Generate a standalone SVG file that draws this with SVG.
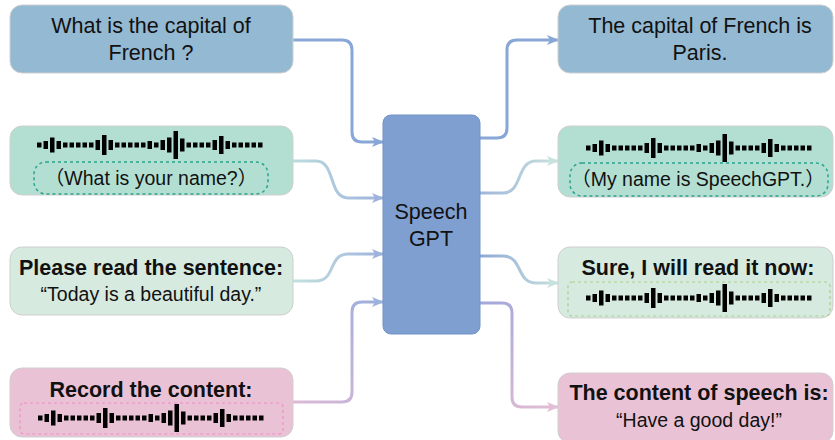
<svg xmlns="http://www.w3.org/2000/svg" xmlns:xlink="http://www.w3.org/1999/xlink" width="835" height="440" viewBox="0 0 835 440">
<style>
.t{font-family:"Liberation Sans","Noto Sans CJK SC",Arial,sans-serif;fill:#111;text-anchor:middle}
.r{font-size:21.5px}
.b{font-size:21.5px;font-weight:bold}
.q{font-size:19.5px}
.box{stroke:#cfcfcf;stroke-width:1}
.c{fill:none;stroke-width:3}
</style>
<defs>
<g id="wave" fill="#000">
<rect x="0" y="-2.5" width="4.5" height="5"/><rect x="6.5" y="-4" width="4.5" height="8"/><rect x="13" y="-7.5" width="4.5" height="15"/><rect x="19.5" y="-4" width="4.5" height="8"/><rect x="26" y="-2.5" width="4.5" height="5"/><rect x="32.5" y="-2.5" width="4.5" height="5"/><rect x="39" y="-2.5" width="4.5" height="5"/><rect x="45.5" y="-2.5" width="4.5" height="5"/><rect x="52" y="-2.5" width="4.5" height="5"/><rect x="58.5" y="-5" width="4.5" height="10"/><rect x="65" y="-10" width="4.5" height="20"/><rect x="71.5" y="-5" width="4.5" height="10"/><rect x="78" y="-2.5" width="4.5" height="5"/><rect x="84.5" y="-2.5" width="4.5" height="5"/><rect x="91" y="-2.5" width="4.5" height="5"/><rect x="97.5" y="-2.5" width="4.5" height="5"/><rect x="104" y="-2.5" width="4.5" height="5"/><rect x="110.5" y="-4" width="4.5" height="8"/><rect x="117" y="-2.5" width="4.5" height="5"/><rect x="123.5" y="-5" width="4.5" height="10"/><rect x="130" y="-7.5" width="4.5" height="15"/><rect x="136.5" y="-14" width="4.5" height="28"/><rect x="143" y="-6.5" width="4.5" height="13"/><rect x="149.5" y="-2.5" width="4.5" height="5"/><rect x="156" y="-2.5" width="4.5" height="5"/><rect x="162.5" y="-2.5" width="4.5" height="5"/><rect x="169" y="-2.5" width="4.5" height="5"/><rect x="175.5" y="-5" width="4.5" height="10"/><rect x="182" y="-9" width="4.5" height="18"/><rect x="188.5" y="-4" width="4.5" height="8"/><rect x="195" y="-2.5" width="4.5" height="5"/><rect x="201.5" y="-2.5" width="4.5" height="5"/><rect x="208" y="-2.5" width="4.5" height="5"/><rect x="214.5" y="-2.5" width="4.5" height="5"/><rect x="221" y="-2.5" width="4.5" height="5"/>
</g>
<marker id="mBlue" markerWidth="12" markerHeight="12" refX="11" refY="6" orient="auto" markerUnits="userSpaceOnUse"><path d="M0,1 L12,6 L0,11 L3,6 Z" fill="#88a7d6"/></marker>
<marker id="mBlue2" markerWidth="12" markerHeight="12" refX="11" refY="6" orient="auto" markerUnits="userSpaceOnUse"><path d="M0,1 L12,6 L0,11 L3,6 Z" fill="#9eb3dc"/></marker>
<marker id="mTeal" markerWidth="12" markerHeight="12" refX="11" refY="6" orient="auto" markerUnits="userSpaceOnUse"><path d="M0,1 L12,6 L0,11 L3,6 Z" fill="#c8e3dd"/></marker>
<marker id="mPink" markerWidth="12" markerHeight="12" refX="11" refY="6" orient="auto" markerUnits="userSpaceOnUse"><path d="M0,1 L12,6 L0,11 L3,6 Z" fill="#e3bcd5"/></marker>
<linearGradient id="g2" gradientUnits="userSpaceOnUse" x1="293" y1="0" x2="383" y2="0"><stop offset="0" stop-color="#bcdcdf"/><stop offset="1" stop-color="#9eb3dc"/></linearGradient>
<linearGradient id="g3" gradientUnits="userSpaceOnUse" x1="293" y1="0" x2="383" y2="0"><stop offset="0" stop-color="#c3e1df"/><stop offset="1" stop-color="#9eb3dc"/></linearGradient>
<linearGradient id="g4" gradientUnits="userSpaceOnUse" x1="293" y1="402" x2="383" y2="302"><stop offset="0" stop-color="#dcb8d6"/><stop offset="1" stop-color="#9eaedc"/></linearGradient>
<linearGradient id="gr2" gradientUnits="userSpaceOnUse" x1="480" y1="0" x2="558" y2="0"><stop offset="0" stop-color="#9fb6dc"/><stop offset="1" stop-color="#c8e3dd"/></linearGradient>
<linearGradient id="gr3" gradientUnits="userSpaceOnUse" x1="480" y1="0" x2="558" y2="0"><stop offset="0" stop-color="#8ea8d6"/><stop offset="1" stop-color="#c8e3dd"/></linearGradient>
<linearGradient id="gr4" gradientUnits="userSpaceOnUse" x1="480" y1="303" x2="558" y2="407"><stop offset="0" stop-color="#a2a8da"/><stop offset="1" stop-color="#e3bcd5"/></linearGradient>
</defs>
<rect width="835" height="440" fill="#fff"/>

<g id="connectors">
<path class="c" stroke="#88a7d6" marker-end="url(#mBlue)" d="M293,40 H342 Q352,40 352,50 V132 Q352,142 362,142 H383"/>
<path class="c" stroke="url(#g2)" marker-end="url(#mBlue2)" d="M293,161 H316 C336,161 328,198 348,198 H383"/>
<path class="c" stroke="url(#g3)" marker-end="url(#mBlue2)" d="M293,281 H316 C336,281 328,254 348,254 H383"/>
<path class="c" stroke="url(#g4)" marker-end="url(#mBlue2)" d="M293,402 H342 Q352,402 352,392 V312 Q352,302 362,302 H383"/>
<path class="c" stroke="#88a7d6" marker-end="url(#mBlue)" d="M480,138 H497 Q507,138 507,128 V50 Q507,40 517,40 H558"/>
<path class="c" stroke="url(#gr2)" marker-end="url(#mTeal)" d="M480,193 H503 C523,193 516,161 536,161 H558"/>
<path class="c" stroke="url(#gr3)" marker-end="url(#mTeal)" d="M480,256 H503 C523,256 516,283 536,283 H558"/>
<path class="c" stroke="url(#gr4)" marker-end="url(#mPink)" d="M480,303 H502 Q512,303 512,313 V397 Q512,407 522,407 H558"/>
</g>

<g id="center">
<rect x="383" y="115" width="97" height="219" rx="8" fill="#7f9fd0" stroke="#7393c8"/>
<text class="t r" x="431" y="219">Speech</text>
<text class="t r" x="431" y="246">GPT</text>
</g>

<g id="in1">
<rect class="box" x="10" y="5" width="283" height="68" rx="12" fill="#94b9d2"/>
<text class="t r" x="151" y="33">What is the capital of</text>
<text class="t r" x="151" y="60">French ?</text>
</g>

<g id="in2">
<rect class="box" x="10" y="126" width="283" height="69" rx="12" fill="#b3dfd2"/>
<use xlink:href="#wave" x="37" y="145"/>
<rect x="34" y="162" width="234" height="32" rx="12" fill="none" stroke="#2aa48c" stroke-width="1.5" stroke-dasharray="3,3"/>
<text class="t q" x="151" y="185">（What is your name?）</text>
</g>

<g id="in3">
<rect class="box" x="10" y="247" width="283" height="68" rx="12" fill="#d6eadf"/>
<text class="t b" x="151" y="275">Please read the sentence:</text>
<text class="t q" x="151" y="301">“Today is a beautiful day.”</text>
</g>

<g id="in4">
<rect class="box" x="10" y="368" width="283" height="69" rx="12" fill="#e9c3d5"/>
<text class="t b" x="151" y="397">Record the content:</text>
<rect x="20" y="403" width="263" height="31" rx="4" fill="none" stroke="#f08cc8" stroke-width="1.2" stroke-dasharray="3,3"/>
<use xlink:href="#wave" x="38" y="418"/>
</g>

<g id="out1">
<rect class="box" x="558" y="5" width="275" height="68" rx="12" fill="#94b9d2"/>
<text class="t r" x="700" y="33">The capital of French is</text>
<text class="t r" x="700" y="60">Paris.</text>
</g>

<g id="out2">
<rect class="box" x="558" y="126" width="275" height="71" rx="12" fill="#b3dfd2"/>
<use xlink:href="#wave" x="586" y="148"/>
<rect x="570" y="163" width="258" height="33" rx="12" fill="none" stroke="#2aa48c" stroke-width="1.5" stroke-dasharray="3,3"/>
<text class="t q" x="698" y="186">（My name is SpeechGPT.）</text>
</g>

<g id="out3">
<rect class="box" x="558" y="247" width="275" height="71" rx="12" fill="#d6eadf"/>
<text class="t b" x="698" y="275">Sure, I will read it now:</text>
<rect x="568" y="282" width="262" height="34" rx="4" fill="none" stroke="#a9cf8a" stroke-width="1.2" stroke-dasharray="3,3"/>
<use xlink:href="#wave" x="586" y="298"/>
</g>

<g id="out4">
<rect class="box" x="558" y="373" width="275" height="70" rx="12" fill="#e9c3d5"/>
<text class="t b" x="699" y="400">The content of speech is:</text>
<text class="t q" x="699" y="427">“Have a good day!”</text>
</g>
</svg>
